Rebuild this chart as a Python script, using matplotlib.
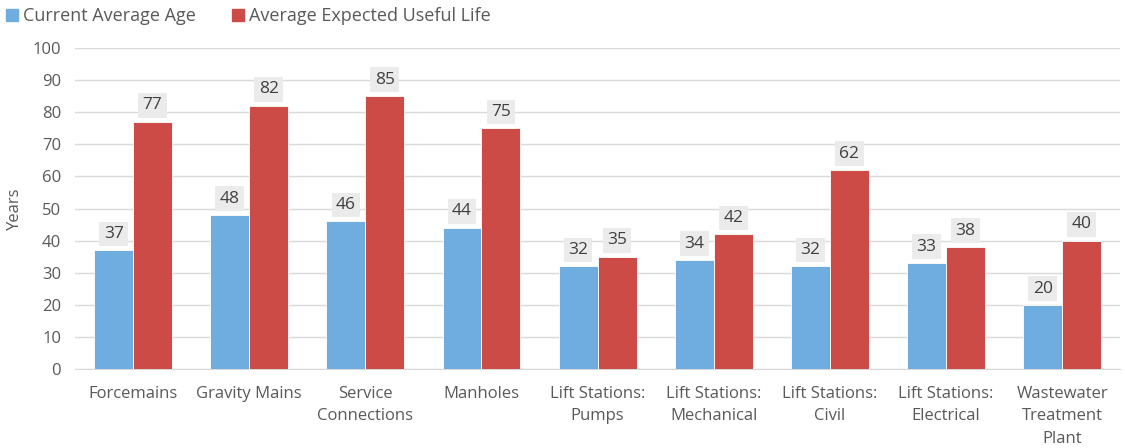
import matplotlib
matplotlib.use('Agg')
import matplotlib.pyplot as plt
import numpy as np
from matplotlib.patches import Patch

plt.rcParams['font.family'] = ['Open Sans', 'DejaVu Sans']

# Asset classes and ages (years)
categories = ['Forcemains', 'Gravity Mains', 'Service\nConnections', 'Manholes',
              'Lift Stations:\nPumps', 'Lift Stations:\nMechanical', 'Lift Stations:\nCivil',
              'Lift Stations:\nElectrical', 'Wastewater\nTreatment\nPlant']
current_age = [37, 48, 46, 44, 32, 34, 32, 33, 20]
useful_life = [77, 82, 85, 75, 35, 42, 62, 38, 40]
y_ticks = [0, 10, 20, 30, 40, 50, 60, 70, 80, 90, 100]

BLUE = '#6FADE1'
RED = '#CD4B46'
TEXT = '#595959'

fig = plt.figure(figsize=(11.25, 4.48), dpi=100)
ax = fig.add_axes([0.0667, 0.176, 0.929, 0.717])

x = np.arange(len(categories))
w = 0.335
b1 = ax.bar(x - w / 2, current_age, w, color=BLUE, edgecolor='white', linewidth=0.6, zorder=3)
b2 = ax.bar(x + w / 2, useful_life, w, color=RED, edgecolor='white', linewidth=0.6, zorder=3)

# value labels in light grey boxes above each bar
for bars, vals in ((b1, current_age), (b2, useful_life)):
    for bar, v in zip(bars, vals):
        ax.annotate(f'{v}', (bar.get_x() + bar.get_width() / 2, v),
                    xytext=(0, 6), textcoords='offset points',
                    ha='center', va='bottom', fontsize=12.5, color='#404040',
                    bbox=dict(boxstyle='square,pad=0.25', facecolor='#EBEBEB', edgecolor='none'),
                    zorder=4)

ax.set_xlim(-0.5, len(categories) - 0.5)
ax.set_ylim(0, 100)
ax.set_yticks(y_ticks)
ax.set_xticks(x)
ax.set_xticklabels(categories, fontsize=12, color=TEXT, linespacing=1.55)
ax.tick_params(axis='y', labelsize=12, labelcolor=TEXT, length=0, pad=10)
ax.tick_params(axis='x', length=0, pad=12)
ax.yaxis.grid(True, color='#D9D9D9', linewidth=1, zorder=0)
for s in ('top', 'right', 'left'):
    ax.spines[s].set_visible(False)
ax.spines['bottom'].set_color('#D9D9D9')
ax.set_ylabel('Years', fontsize=12, color=TEXT)
ax.yaxis.set_label_coords(-0.05, 0.5)

handles = [Patch(color=BLUE, label='Current Average Age'),
           Patch(color=RED, label='Average Expected Useful Life')]
fig.legend(handles=handles, loc='upper left', bbox_to_anchor=(-0.009, 1.02), ncol=2,
           frameon=False, fontsize=13, labelcolor=TEXT, handlelength=0.65, handleheight=0.65,
           handletextpad=0.3, columnspacing=2.0)

plt.savefig('out.png', dpi=100)
